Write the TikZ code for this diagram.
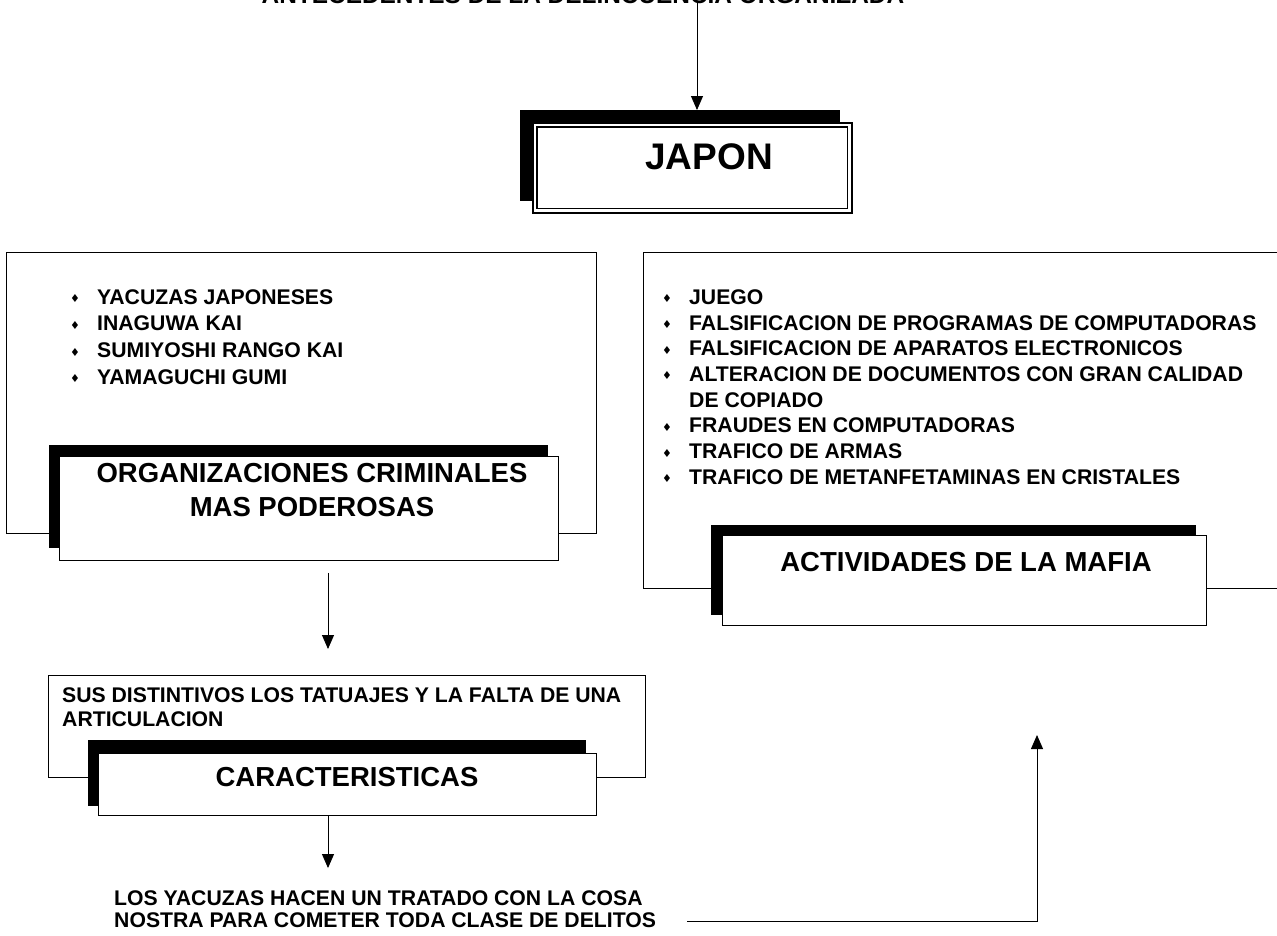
\documentclass[tikz,border=0pt]{standalone}
\usepackage{fontspec}
\setmainfont{Liberation Sans}
\newfontfamily\symfont{DejaVu Sans}
\usetikzlibrary{arrows.meta}
\newcommand{\bul}{\makebox[27pt][l]{\raisebox{1.5pt}{\symfont\fontsize{11}{11}\selectfont ♦}}}
\tikzset{
  panel/.style={draw=black, line width=0.9pt, fill=white, inner sep=0pt, anchor=north west},
  shadowbox/.style={draw=black, fill=black, inner sep=0pt, anchor=north west},
  whitebox/.style={draw=black, fill=white, line width=0.9pt, inner sep=0pt, anchor=north west},
  bodytext/.style={font=\fontsize{21.2}{26.7}\selectfont\bfseries, inner sep=0pt, align=left},
  headtext/.style={font=\fontsize{27.5}{34}\selectfont\bfseries, inner sep=0pt, align=center},
  conn/.style={draw=black, line width=0.9pt},
  arr/.style={conn, -{Triangle[width=12pt,length=14pt]}},
}
\begin{document}
\begin{tikzpicture}[x=1pt,y=-1pt]
\useasboundingbox (0,0) rectangle (1277,935);
\fill[white] (0,0) rectangle (1277,935);

% title (mostly cut off at the top)
\node[font=\fontsize{24.4}{28}\selectfont\bfseries, inner sep=0pt, anchor=base] (title) at (583,3) {ANTECEDENTES DE LA DELINCUENCIA ORGANIZADA};

% JAPON
\node[shadowbox, minimum width=319pt, minimum height=90pt] (jshadow) at (520,110) {};
\node[whitebox, line width=1.6pt, minimum width=319pt, minimum height=90pt] (jbox) at (532,122) {};
\draw[line width=1.4pt] ([xshift=5pt,yshift=-5pt]jbox.north west) rectangle ([xshift=-5pt,yshift=5pt]jbox.south east);
\node[font=\fontsize{37}{40}\selectfont\bfseries, inner sep=0pt] (jtext) at (709,157) {JAPON};
\coordinate (tx) at (697,0);
\draw[arr] (title.south -| tx) -- (jshadow.north -| tx);

% left panel
\node[panel, minimum width=590pt, minimum height=281pt] (orgpanel) at (6,252) {};
\node[bodytext, anchor=west] (orglist) at (70,337) {%
\bul YACUZAS JAPONESES\\
\bul INAGUWA KAI\\
\bul SUMIYOSHI RANGO KAI\\
\bul YAMAGUCHI GUMI};
\node[shadowbox, minimum width=498pt, minimum height=102pt] (orgshadow) at (49,445) {};
\node[whitebox, minimum width=499pt, minimum height=104pt] (orgbox) at (59,456) {};
\node[headtext] (orgtext) at (312,490) {ORGANIZACIONES CRIMINALES\\MAS PODEROSAS};

% right panel (runs off the right edge)
\node[panel, minimum width=700pt, minimum height=336pt] (actpanel) at (643,252) {};
\node[bodytext, anchor=west, font=\fontsize{21.2}{25.7}\selectfont\bfseries] (actlist) at (662,387) {%
\bul JUEGO\\
\bul FALSIFICACION DE PROGRAMAS DE COMPUTADORAS\\
\bul FALSIFICACION DE APARATOS ELECTRONICOS\\
\bul ALTERACION DE DOCUMENTOS CON GRAN CALIDAD\\
\makebox[27pt]{}DE COPIADO\\
\bul FRAUDES EN COMPUTADORAS\\
\bul TRAFICO DE ARMAS\\
\bul TRAFICO DE METANFETAMINAS EN CRISTALES};
\node[shadowbox, minimum width=484pt, minimum height=89pt] (actshadow) at (711,525) {};
\node[whitebox, minimum width=484pt, minimum height=90pt] (actbox) at (722,535) {};
\node[headtext] (acttext) at (966,562) {ACTIVIDADES DE LA MAFIA};

% caracteristicas
\coordinate (ax) at (328,0);
\node[panel, minimum width=597pt, minimum height=102pt] (carpanel) at (48,675) {};
\node[bodytext, anchor=west, font=\fontsize{21.2}{24}\selectfont\bfseries] (cartext) at (62,707) {SUS DISTINTIVOS LOS TATUAJES Y LA FALTA DE UNA\\ARTICULACION};
\node[shadowbox, minimum width=497pt, minimum height=65pt] (carshadow) at (88,740) {};
\node[whitebox, minimum width=498pt, minimum height=62pt] (carbox) at (98,753) {};
\node[headtext] (cartitle) at (347,777) {CARACTERISTICAS};
\draw[arr, shorten <=12pt, shorten >=26pt] (orgbox.south -| ax) -- (carpanel.north -| ax);

% bottom text and return arrow
\node[bodytext, anchor=west, font=\fontsize{21.2}{22.5}\selectfont\bfseries] (final) at (114,909) {LOS YACUZAS HACEN UN TRATADO CON LA COSA\\NOSTRA PARA COMETER TODA CLASE DE DELITOS};
\draw[arr, shorten >=22pt] (carbox.south -| ax) -- (final.north -| ax);
\coordinate (r0) at (687,921);
\coordinate (r1) at (1037,921);
\coordinate (r2) at (1037,735);
\draw[arr] (r0) -- (r1) -- (r2);
\end{tikzpicture}
\end{document}
